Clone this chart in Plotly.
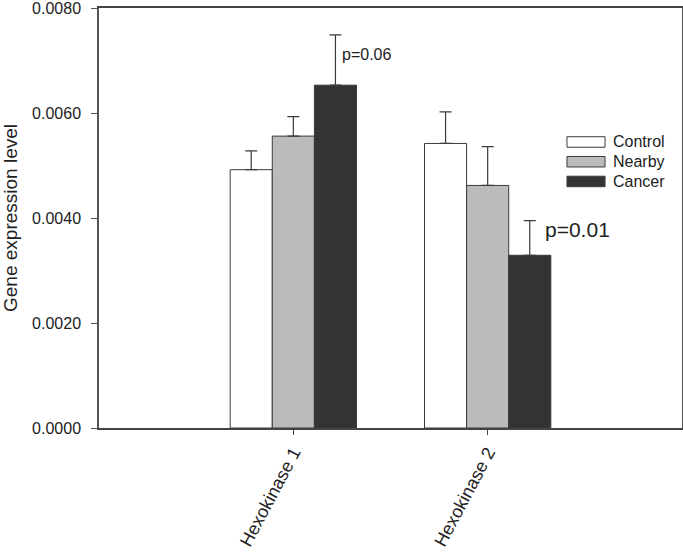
import plotly.graph_objects as go

categories = ["Hexokinase 1", "Hexokinase 2"]
series_names = ["Control", "Nearby", "Cancer"]
control_vals = [0.00492, 0.00542]
nearby_vals = [0.00556, 0.00462]
cancer_vals = [0.00653, 0.00329]
control_err = [0.00036, 0.00060]
nearby_err = [0.00037, 0.00074]
cancer_err = [0.00096, 0.00066]
p_labels = ["p=0.06", "p=0.01"]
y_ticks = [0.0, 0.002, 0.004, 0.006, 0.008]
y_ticklabels = ["0.0000", "0.0020", "0.0040", "0.0060", "0.0080"]

colors = ["#ffffff", "#bbbbbb", "#333333"]
values = [control_vals, nearby_vals, cancer_vals]
errors = [control_err, nearby_err, cancer_err]

FONT = "Liberation Sans, Arial, sans-serif"
EDGE = "#3a3a3a"
fig = go.Figure()
for name, vals, errs, col in zip(series_names, values, errors, colors):
    fig.add_trace(go.Bar(
        x=categories, y=vals, name=name,
        marker=dict(color=col, line=dict(color=EDGE, width=1)),
        error_y=dict(type="data", array=errs, arrayminus=[0] * len(errs),
                     symmetric=False, color=EDGE, thickness=1.2, width=6),
        showlegend=False,
    ))

# p-value annotations next to Cancer error bars
bar_offset = 0.65 / 3
p_sizes = [16, 21]
p_xshift = [5, 13]
p_yshift = [-20, -9]
for i, (lab, v, e) in enumerate(zip(p_labels, cancer_vals, cancer_err)):
    fig.add_annotation(x=i + bar_offset, y=v + e, text=lab, showarrow=False,
                       xref="x", yref="y", xanchor="left", yanchor="middle",
                       xshift=p_xshift[i], yshift=p_yshift[i],
                       font=dict(size=p_sizes[i], color="#222", family=FONT))

# custom legend with wide swatches
leg_x0, leg_x1 = 0.8027, 0.868
for j, (name, col) in enumerate(zip(series_names, colors)):
    yc = 0.681 - j * 0.047
    fig.add_shape(type="rect", xref="paper", yref="paper",
                  x0=leg_x0, x1=leg_x1, y0=yc - 0.0125, y1=yc + 0.0125,
                  fillcolor=col, line=dict(color=EDGE, width=1))
    fig.add_annotation(xref="paper", yref="paper", x=0.8816, y=yc,
                       text=name, showarrow=False, xanchor="left", yanchor="middle",
                       xshift=-2,
                       font=dict(size=16, color="#222", family=FONT))

fig.update_layout(
    width=683, height=552,
    margin=dict(l=99, r=1, t=8, b=124),
    paper_bgcolor="white", plot_bgcolor="white",
    barmode="group", bargap=0.35, bargroupgap=0,
    font=dict(family=FONT, color="#222"),
    showlegend=False,
)
fig.update_xaxes(
    range=[-1, 2], tickangle=-62, ticks="outside", ticklen=5, tickcolor="#444",
    showline=True, linecolor="#444", linewidth=1.5, mirror=True, automargin=False,
    showgrid=False, tickfont=dict(size=18, family=FONT, color="#222"),
)
fig.update_yaxes(
    range=[0, 0.0080001], tickvals=y_ticks, ticktext=y_ticklabels, ticks="outside",
    ticklen=6, ticklabelstandoff=7, ticklabeloverflow="allow",
    tickcolor="#555", showline=True, linecolor="#555", linewidth=1.5, mirror=True,
    showgrid=False, zeroline=False, automargin=False,
    tickfont=dict(size=16, family=FONT, color="#222"),
    title=dict(text="Gene expression level", font=dict(size=19, family=FONT, color="#222"),
               standoff=9),
)

fig.write_html(
    "out.html",
    config={"displayModeBar": False},
    post_script="document.body.style.margin='0';document.body.style.overflow='hidden';",
)
